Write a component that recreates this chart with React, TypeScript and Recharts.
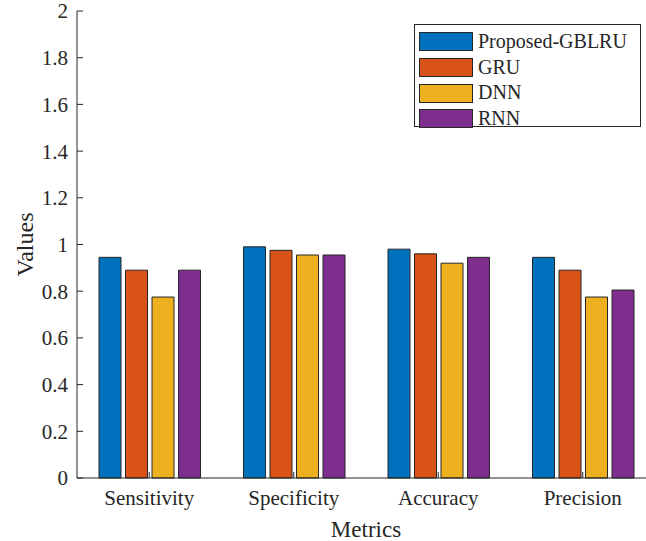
import { BarChart, Bar, XAxis, YAxis, Legend } from "recharts";

const categories = ["Sensitivity", "Specificity", "Accuracy", "Precision"];
const gblru = [0.945, 0.99, 0.98, 0.945];
const gru = [0.89, 0.975, 0.96, 0.89];
const dnn = [0.775, 0.955, 0.92, 0.775];
const rnn = [0.89, 0.955, 0.945, 0.805];
const yTicks = [0, 0.2, 0.4, 0.6, 0.8, 1, 1.2, 1.4, 1.6, 1.8, 2];

const series = [
  { key: "gblru", name: "Proposed-GBLRU", color: "#0072BD" },
  { key: "gru", name: "GRU", color: "#D95319" },
  { key: "dnn", name: "DNN", color: "#EDB120" },
  { key: "rnn", name: "RNN", color: "#7E2F8E" },
];

const data = categories.map((name, i) => ({
  name,
  gblru: gblru[i],
  gru: gru[i],
  dnn: dnn[i],
  rnn: rnn[i],
}));

const font = '"Liberation Serif", "Times New Roman", serif';
const ink = "#262626";

function LegendBox() {
  return (
    <div
      style={{
        width: 227,
        height: 103,
        boxSizing: "border-box",
        border: `1px solid ${ink}`,
        background: "#fff",
        paddingTop: 4,
        paddingLeft: 4,
        fontFamily: font,
        fontSize: 20,
        color: ink,
      }}
    >
      {series.map((s) => (
        <div key={s.key} style={{ display: "flex", alignItems: "center", height: 25.7 }}>
          <div
            style={{
              width: 54,
              height: 19,
              boxSizing: "border-box",
              background: s.color,
              border: `1px solid ${ink}`,
              marginRight: 5,
            }}
          />
          <span style={{ lineHeight: "20px", marginTop: -2 }}>{s.name}</span>
        </div>
      ))}
    </div>
  );
}

export default function App() {
  return (
    <div
      style={{
        position: "absolute",
        left: 0,
        top: 0,
        width: 646,
        height: 541,
        overflow: "hidden",
        background: "#fff",
      }}
    >
      <BarChart
        width={660}
        height={541}
        data={data}
        margin={{ top: 11, right: 5, bottom: 0, left: 0 }}
        barSize={22}
        barGap={4.5}
        style={{ fontFamily: font }}
      >
        <XAxis
          dataKey="name"
          height={63}
          tickSize={-6}
          tickMargin={18}
          axisLine={{ stroke: ink }}
          tickLine={{ stroke: ink }}
          tick={{ fill: ink, fontSize: 21, fontFamily: font }}
          label={{
            value: "Metrics",
            position: "insideBottom",
            offset: 4,
            fill: ink,
            fontSize: 23,
            fontFamily: font,
          }}
        />
        <XAxis
          xAxisId="top"
          dataKey="name"
          orientation="top"
          height={0}
          tickSize={-6}
          tick={false}
          axisLine={{ stroke: ink }}
          tickLine={{ stroke: ink }}
        />
        <YAxis
          width={77}
          domain={[0, 2]}
          ticks={yTicks}
          interval={0}
          tickSize={-6}
          tickMargin={15}
          axisLine={{ stroke: ink }}
          tickLine={{ stroke: ink }}
          tick={{ fill: ink, fontSize: 21, fontFamily: font }}
          tickFormatter={(v) => String(v)}
          label={{
            value: "Values",
            angle: -90,
            position: "insideLeft",
            offset: 24,
            fill: ink,
            fontSize: 24,
            fontFamily: font,
            style: { textAnchor: "middle" },
          }}
        />
        <Legend
          layout="horizontal"
          verticalAlign="middle"
          align="center"
          content={() => <LegendBox />}
          wrapperStyle={{ left: 414, top: 24, width: 227, height: 103 }}
        />
        {series.map((s) => (
          <Bar
            key={s.key}
            dataKey={s.key}
            name={s.name}
            fill={s.color}
            stroke={ink}
            strokeWidth={1}
            isAnimationActive={false}
          />
        ))}
      </BarChart>
    </div>
  );
}
